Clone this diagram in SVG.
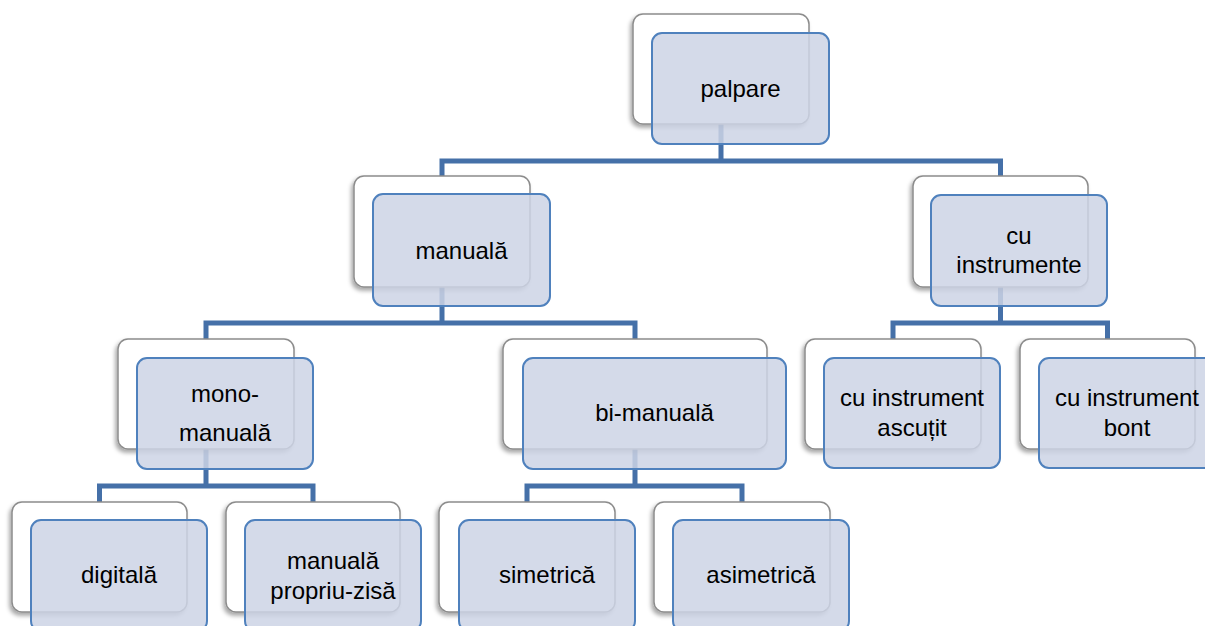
<svg xmlns="http://www.w3.org/2000/svg" width="1205" height="626" viewBox="0 0 1205 626">
<style>
.w{fill:#fff;stroke:#8c8c8c;stroke-width:1.5;filter:url(#sh)}
.b{fill:#ccd4e5;fill-opacity:0.85;stroke:#4f81bd;stroke-width:2}
.c{fill:none;stroke:#4570a8;stroke-width:5;stroke-linejoin:miter}
text{font-family:"Liberation Sans",Arial,sans-serif;font-size:24px;text-anchor:middle;fill:#000}
</style>
<defs>
<filter id="sh" x="-10%" y="-10%" width="120%" height="130%">
<feDropShadow dx="-2" dy="3" stdDeviation="2" flood-color="#000" flood-opacity="0.35"/>
</filter>
</defs>
<rect width="1205" height="626" fill="#fff"/>
<g id="connectors">
<path class="c" d="M721 124 V161 M442 177 V161 H1000.5 V177"/>
<path class="c" d="M442 287 V323 M206 340 V323 H635 V340"/>
<path class="c" d="M1000.5 286 V323 M893 340 V323 H1107.5 V340"/>
<path class="c" d="M206 448 V486 M99.5 503 V486 H313 V503"/>
<path class="c" d="M635 448 V486 M527 503 V486 H742 V503"/>
</g>
<g id="palpare">
<rect class="w" x="633" y="14" width="176" height="110" rx="10"/>
<rect class="b" x="652" y="33" width="177" height="111" rx="10"/>
<text x="740.5" y="97">palpare</text>
</g>
<g id="manuala">
<rect class="w" x="354" y="176" width="176" height="111" rx="10"/>
<rect class="b" x="373" y="194" width="177" height="112" rx="10"/>
<text x="461.5" y="259">manuală</text>
</g>
<g id="cu-instrumente">
<rect class="w" x="913" y="176" width="175" height="111" rx="10"/>
<rect class="b" x="931" y="195" width="176" height="111" rx="10"/>
<text x="1019" y="244">cu</text>
<text x="1019" y="273">instrumente</text>
</g>
<g id="mono-manuala">
<rect class="w" x="118" y="339" width="176" height="110" rx="10"/>
<rect class="b" x="137" y="358" width="176" height="111" rx="10"/>
<text x="225" y="402">mono-</text>
<text x="225" y="441">manuală</text>
</g>
<g id="bi-manuala">
<rect class="w" x="503" y="339" width="264" height="110" rx="10"/>
<rect class="b" x="523" y="358" width="263" height="111" rx="10"/>
<text x="654.5" y="421">bi-manuală</text>
</g>
<g id="cu-instrument-ascutit">
<rect class="w" x="805" y="339" width="176" height="110" rx="10"/>
<rect class="b" x="824" y="358" width="176" height="110" rx="10"/>
<text x="912" y="406">cu instrument</text>
<text x="912" y="436">ascuțit</text>
</g>
<g id="cu-instrument-bont">
<rect class="w" x="1020" y="339" width="175" height="110" rx="10"/>
<rect class="b" x="1039" y="358" width="176" height="110" rx="10"/>
<text x="1127" y="406">cu instrument</text>
<text x="1127" y="436">bont</text>
</g>
<g id="digitala">
<rect class="w" x="12" y="502" width="175" height="110" rx="10"/>
<rect class="b" x="31" y="520" width="176" height="111" rx="10"/>
<text x="119" y="583">digitală</text>
</g>
<g id="manuala-propriu-zisa">
<rect class="w" x="226" y="502" width="174" height="110" rx="10"/>
<rect class="b" x="245" y="520" width="176" height="111" rx="10"/>
<text x="333" y="569">manuală</text>
<text x="333" y="599">propriu-zisă</text>
</g>
<g id="simetrica">
<rect class="w" x="439" y="502" width="176" height="110" rx="10"/>
<rect class="b" x="459" y="520" width="176" height="111" rx="10"/>
<text x="547" y="583">simetrică</text>
</g>
<g id="asimetrica">
<rect class="w" x="654" y="502" width="176" height="110" rx="10"/>
<rect class="b" x="673" y="520" width="176" height="111" rx="10"/>
<text x="761" y="583">asimetrică</text>
</g>
</svg>
